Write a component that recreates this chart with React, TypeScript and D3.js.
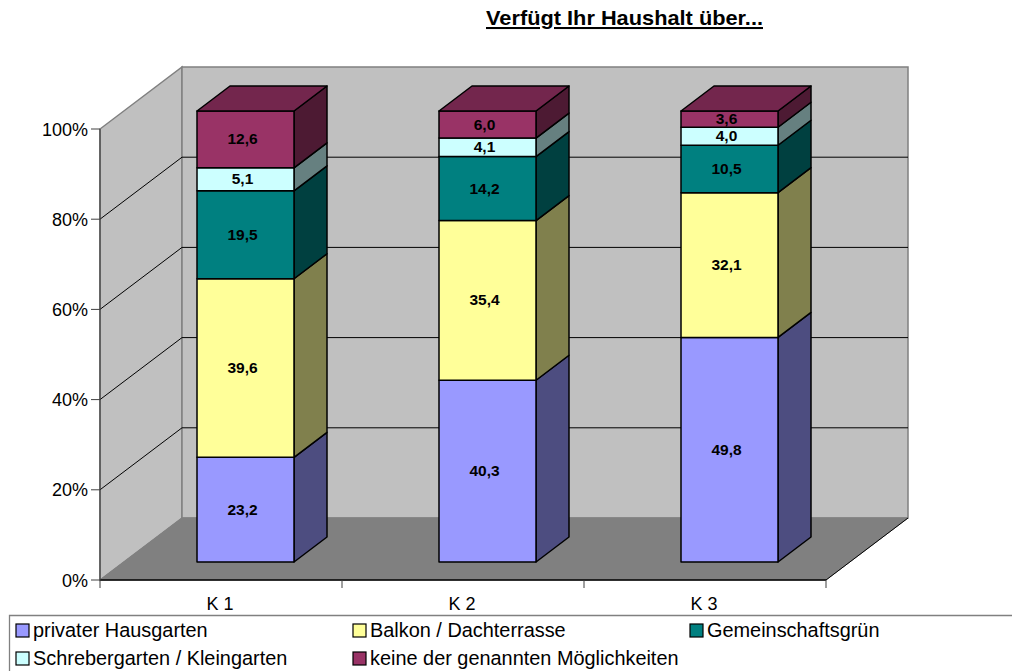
import React from "react";
import * as d3 from "d3";

const categories = ["K 1", "K 2", "K 3"];
const seriesNames = [
  "privater Hausgarten",
  "Balkon / Dachterrasse",
  "Gemeinschaftsgrün",
  "Schrebergarten / Kleingarten",
  "keine der genannten Möglichkeiten",
];
const privat = [23.2, 40.3, 49.8];
const balkon = [39.6, 35.4, 32.1];
const gemein = [19.5, 14.2, 10.5];
const schreber = [5.1, 4.1, 4.0];
const keine = [12.6, 6.0, 3.6];
const seriesValues = [privat, balkon, gemein, schreber, keine];
const colors = ["#9999FF", "#FFFF99", "#008080", "#CCFFFF", "#993366"];
const sideColors = ["#4D4D80", "#80804D", "#004040", "#668080", "#4D1A33"];
const topColor = "#73264D";
const yTicks = [0, 20, 40, 60, 80, 100];
const FONT = "'Liberation Sans', Arial, sans-serif";

const WALL_DX = 82, WALL_DY = -62;
const BAR_OFF_X = 24.5, BAR_OFF_Y = -18, BAR_W = 97, BAR_DX = 33, BAR_DY = -25;

const x = d3.scaleBand<string>().domain(categories).range([100, 826]);
const y = d3.scaleLinear().domain([0, 100]).range([580, 129]);
const yBar = (v: number) => y(v) + BAR_OFF_Y;
const pts = (p: number[][]) => d3.line()(p as [number, number][]) + "Z";

export default function App() {
  const x0 = x.range()[0], x1 = x.range()[1];
  const y0 = y(0), yT = y(100);
  const stacks = d3.stack<number>().keys(d3.range(seriesNames.length) as any)
    .value((i: number, k: any) => seriesValues[k][i])(d3.range(categories.length));

  const legendItems = [
    { i: 0, bx: 16, by: 624 }, { i: 1, bx: 353, by: 624 }, { i: 2, bx: 690, by: 624 },
    { i: 3, bx: 16, by: 652 }, { i: 4, bx: 353, by: 652 },
  ];

  return (
    <svg width={1012} height={671} style={{ position: "absolute", left: 0, top: 0, display: "block" }} fontFamily={FONT}>
      <rect width={1012} height={671} fill="#fff" />
      <text x={486} y={25} fontSize={20.5} fontWeight="bold" textDecoration="underline" fill="#000" textLength={277} lengthAdjust="spacingAndGlyphs">Verfügt Ihr Haushalt über...</text>

      <path d={pts([[x0, y0], [x0 + WALL_DX, y0 + WALL_DY], [x0 + WALL_DX, yT + WALL_DY], [x0, yT]])} fill="#C0C0C0" stroke="#808080" strokeWidth={1.5} />
      <path d={pts([[x0 + WALL_DX, y0 + WALL_DY], [x1 + WALL_DX, y0 + WALL_DY], [x1 + WALL_DX, yT + WALL_DY], [x0 + WALL_DX, yT + WALL_DY]])} fill="#C0C0C0" stroke="#808080" strokeWidth={1.5} />
      <path d={pts([[x0, y0], [x1, y0], [x1 + WALL_DX, y0 + WALL_DY], [x0 + WALL_DX, y0 + WALL_DY]])} fill="#808080" stroke="#808080" strokeWidth={1} />

      {yTicks.slice(1, -1).map((t) => (
        <path key={t} d={`M${x0},${y(t)}L${x0 + WALL_DX},${y(t) + WALL_DY}L${x1 + WALL_DX},${y(t) + WALL_DY}`} fill="none" stroke="#000" strokeWidth={1} />
      ))}
      <line x1={x1} y1={y0} x2={x1 + WALL_DX} y2={y0 + WALL_DY} stroke="#000" strokeWidth={1} />
      <line x1={x0} y1={y0} x2={x1} y2={y0} stroke="#000" strokeWidth={1.5} />
      <line x1={x0} y1={y0} x2={x0} y2={yT} stroke="#404040" strokeWidth={1.2} />

      {yTicks.map((t) => (
        <g key={t}>
          <line x1={91} x2={x0} y1={y(t)} y2={y(t)} stroke="#404040" strokeWidth={1} />
          <text x={88} y={y(t) + 6.5} textAnchor="end" fontSize={18} fill="#000">{t}%</text>
        </g>
      ))}
      {[...categories.map((c) => x(c)!), x1].map((px) => (
        <line key={px} x1={px} x2={px} y1={y0} y2={y0 + 8} stroke="#404040" strokeWidth={1} />
      ))}
      {categories.map((c) => (
        <text key={c} x={x(c)! + x.bandwidth() / 2 - 1} y={609.5} textAnchor="middle" fontSize={18} fill="#000">{c}</text>
      ))}

      {categories.map((c, ci) => {
        const l = x(c)! + x.bandwidth() / 2 + BAR_OFF_X - BAR_W / 2;
        const r = l + BAR_W;
        const topY = yBar(stacks[stacks.length - 1][ci][1]);
        return (
          <g key={c} stroke="#000" strokeWidth={1.5} strokeLinejoin="round">
            {stacks.map((s, si) => {
              const a = yBar(s[ci][0]), b = yBar(s[ci][1]);
              return (
                <g key={si}>
                  <path d={pts([[r, a], [r + BAR_DX, a + BAR_DY], [r + BAR_DX, b + BAR_DY], [r, b]])} fill={sideColors[si]} />
                  <path d={pts([[l, a], [r, a], [r, b], [l, b]])} fill={colors[si]} />
                </g>
              );
            })}
            <path d={pts([[l, topY], [r, topY], [r + BAR_DX, topY + BAR_DY], [l + BAR_DX, topY + BAR_DY]])} fill={topColor} />
            {stacks.map((s, si) => (
              <text key={si} x={(l + r) / 2 - 3} y={(yBar(s[ci][0]) + yBar(s[ci][1])) / 2 + 5} textAnchor="middle" fontSize={15.5} fontWeight="bold" fill="#000" stroke="none">
                {seriesValues[si][ci].toFixed(1).replace(".", ",")}
              </text>
            ))}
          </g>
        );
      })}

      <path d={`M9.5,671V615.5H1012`} fill="none" stroke="#808080" strokeWidth={1.3} />
      {legendItems.map(({ i, bx, by }) => (
        <g key={i}>
          <rect x={bx} y={by} width={13} height={13} fill={colors[i]} stroke="#000" strokeWidth={1.2} />
          <text x={bx + 17} y={by + 13} fontSize={19.9} fill="#000">{seriesNames[i]}</text>
        </g>
      ))}
    </svg>
  );
}
